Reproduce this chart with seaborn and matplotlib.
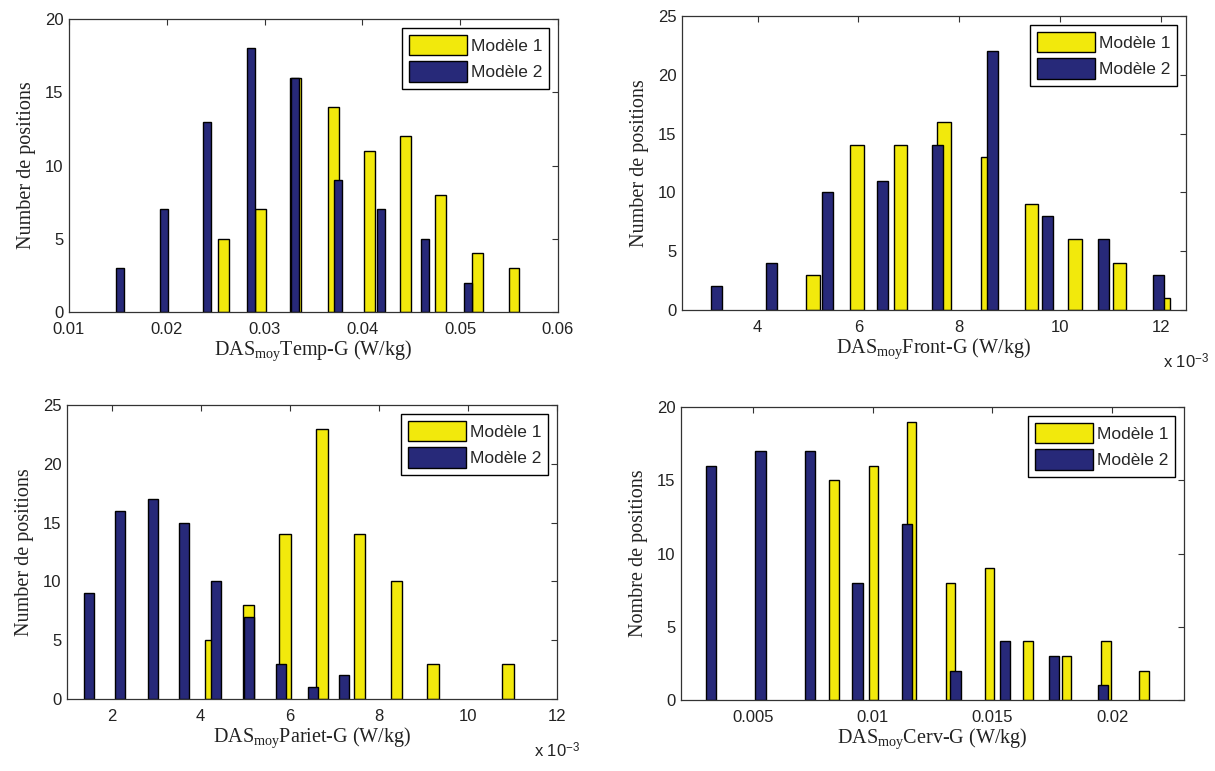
import numpy as np
import pandas as pd
import matplotlib
matplotlib.use("Agg")
import matplotlib.pyplot as plt
from matplotlib.patches import Patch
from matplotlib.ticker import FuncFormatter, MultipleLocator
import seaborn as sns

# ---------------- data ----------------
# Panel 1 : DAS moy Temp-G (W/kg)
temp_m1_x = [0.0258, 0.0296, 0.0332, 0.0370, 0.0407, 0.0444, 0.0480, 0.0518, 0.0555]
temp_m1_n = [5, 7, 16, 14, 11, 12, 8, 4, 3]
temp_m2_x = [0.0152, 0.0197, 0.0241, 0.0286, 0.0331, 0.0375, 0.0419, 0.0464, 0.0508]
temp_m2_n = [3, 7, 13, 18, 16, 9, 7, 5, 2]

# Panel 2 : DAS moy Front-G (W/kg)
front_m1_x = [0.00510, 0.00597, 0.00683, 0.00770, 0.00856, 0.00943, 0.01030, 0.01118, 0.01205]
front_m1_n = [3, 14, 14, 16, 13, 9, 6, 4, 1]
front_m2_x = [0.00318, 0.00427, 0.00539, 0.00647, 0.00757, 0.00866, 0.00976, 0.01087, 0.01195]
front_m2_n = [2, 4, 10, 11, 14, 22, 8, 6, 3]

# Panel 3 : DAS moy Pariet-G (W/kg)
pariet_m1_x = [0.00423, 0.00507, 0.00589, 0.00673, 0.00757, 0.00840, 0.00922, 0.01090]
pariet_m1_n = [5, 8, 14, 23, 14, 10, 3, 3]
pariet_m2_x = [0.00149, 0.00219, 0.00292, 0.00363, 0.00435, 0.00508, 0.00580, 0.00652, 0.00722]
pariet_m2_n = [9, 16, 17, 15, 10, 7, 3, 1, 2]

# Panel 4 : DAS moy Cerv-G (W/kg)
cerv_m1_x = [0.00838, 0.01003, 0.01162, 0.01325, 0.01488, 0.01648, 0.01810, 0.01975, 0.02133]
cerv_m1_n = [15, 16, 19, 8, 9, 4, 3, 4, 2]
cerv_m2_x = [0.00325, 0.00532, 0.00737, 0.00937, 0.01142, 0.01346, 0.01554, 0.01757, 0.01962]
cerv_m2_n = [16, 17, 17, 8, 12, 2, 4, 3, 1]

series_names = ["Modèle 1", "Modèle 2"]
xlabels = ["Temp-G", "Front-G", "Pariet-G", "Cerv-G"]
ylabels = ["Number de positions", "Number de positions",
           "Number de positions", "Nombre de positions"]

# ---------------- style ----------------
sns.set_theme(style="white")
plt.rcParams["font.family"] = ["Liberation Sans", "DejaVu Sans"]
plt.rcParams["mathtext.fontset"] = "custom"
plt.rcParams["mathtext.rm"] = "Liberation Serif"
plt.rcParams["mathtext.it"] = "Liberation Serif"

YELLOW = "#F2E90C"
BLUE = "#272979"

W, H = 1215, 771
fig = plt.figure(figsize=(W / 100, H / 100), dpi=100)


def axes_px(left, right, top, bottom):
    return fig.add_axes([left / W, 1 - bottom / H, (right - left) / W, (bottom - top) / H])


panels = [
    dict(box=(69, 558, 19, 312), m1=(temp_m1_x, temp_m1_n), m2=(temp_m2_x, temp_m2_n),
         w1=0.00112, w2=0.00085, xlim=(0.01, 0.06), xticks=np.arange(0.01, 0.0601, 0.01),
         ylim=(0, 20), scale=False, fmt=lambda v, p: f"{v:.2f}"),
    dict(box=(682, 1186, 16, 310), m1=(front_m1_x, front_m1_n), m2=(front_m2_x, front_m2_n),
         w1=0.000265, w2=0.00022, xlim=(0.0025, 0.0125), xticks=np.arange(0.004, 0.01201, 0.002),
         ylim=(0, 25), scale=True, fmt=lambda v, p: f"{v * 1000:.0f}"),
    dict(box=(67, 557, 405, 699), m1=(pariet_m1_x, pariet_m1_n), m2=(pariet_m2_x, pariet_m2_n),
         w1=0.00026, w2=0.000225, xlim=(0.001, 0.012), xticks=np.arange(0.002, 0.01201, 0.002),
         ylim=(0, 25), scale=True, fmt=lambda v, p: f"{v * 1000:.0f}"),
    dict(box=(681, 1184, 407, 700), m1=(cerv_m1_x, cerv_m1_n), m2=(cerv_m2_x, cerv_m2_n),
         w1=0.00040, w2=0.00042, xlim=(0.002, 0.023), xticks=[0.005, 0.01, 0.015, 0.02],
         ylim=(0, 20), scale=False, fmt=lambda v, p: f"{v:g}"),
]

for i, pn in enumerate(panels):
    ax = axes_px(*pn["box"])
    for (xs, ns), w, col in [(pn["m1"], pn["w1"], YELLOW), (pn["m2"], pn["w2"], BLUE)]:
        df = pd.DataFrame({"x": xs, "n": ns})
        step = np.min(np.diff(np.unique(xs)))
        sns.barplot(data=df, x="x", y="n", native_scale=True, orient="x",
                    width=w / step, color=col, saturation=1, errorbar=None,
                    edgecolor="black", linewidth=1.0, ax=ax)
    ax.set_xlim(*pn["xlim"])
    ax.set_ylim(*pn["ylim"])
    ax.set_xticks(pn["xticks"])
    ax.xaxis.set_major_formatter(FuncFormatter(pn["fmt"]))
    ax.yaxis.set_major_locator(MultipleLocator(5))
    ax.tick_params(axis="both", which="both", direction="in", top=True, right=True,
                   length=4, width=0.8, color="#333333", labelsize=12,
                   labelcolor="#222222")
    ax.tick_params(axis="x", pad=7)
    ax.tick_params(axis="y", pad=4)
    for s in ax.spines.values():
        s.set_visible(True)
        s.set_color("#333333")
        s.set_linewidth(0.9)
    ax.set_xlabel(r"DAS$_{\mathregular{moy}}$" + xlabels[i] + " (W/kg)",
                  family="Liberation Serif", fontsize=14.5, color="#222222", labelpad=1)
    ax.set_ylabel(ylabels[i], family="Liberation Serif", fontsize=14.5, color="#222222",
                  labelpad=6)
    handles = [Patch(facecolor=YELLOW, edgecolor="black", linewidth=1.0),
               Patch(facecolor=BLUE, edgecolor="black", linewidth=1.0)]
    leg = ax.legend(handles, series_names, loc="upper right", fontsize=12.5,
                    frameon=True, fancybox=False, framealpha=1, edgecolor="black",
                    handlelength=3.3, handleheight=1.45, handletextpad=0.25,
                    borderpad=0.4, labelspacing=0.35, borderaxespad=0.5)
    leg.get_frame().set_linewidth(1.0)
    if pn["scale"]:
        ax.annotate(r"x 10$^{\mathregular{-3}}$", xy=(1.0, 0.0), xycoords="axes fraction",
                    xytext=(0, -42), textcoords="offset pixels", ha="center", va="top",
                    fontsize=12, color="#222222")

fig.savefig("out.png", dpi=100)
